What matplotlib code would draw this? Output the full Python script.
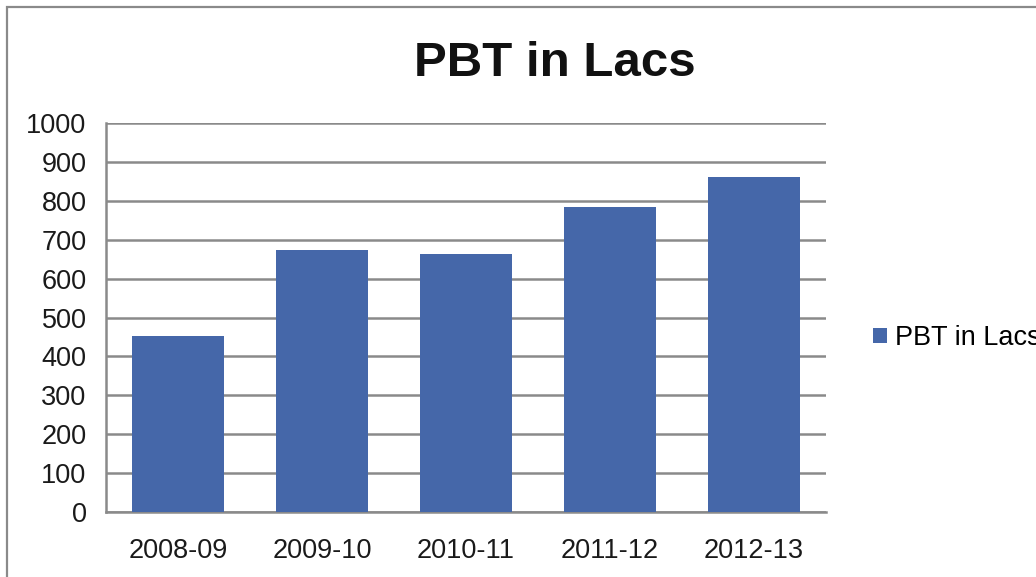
import matplotlib
matplotlib.use("Agg")
import matplotlib.pyplot as plt
from matplotlib.patches import Rectangle

years = ["2008-09", "2009-10", "2010-11", "2011-12", "2012-13"]
pbt_values = [452, 673, 663, 785, 862]
y_ticks = [0, 100, 200, 300, 400, 500, 600, 700, 800, 900, 1000]

W, H = 1036, 577
bar_color = "#4567A9"
grid_color = "#8A8A8A"

plt.rcParams["font.family"] = ["Liberation Sans", "DejaVu Sans"]

fig = plt.figure(figsize=(W / 100, H / 100), dpi=100)
fig.patch.set_facecolor("white")

# chart frame, cut off at right and bottom
fig.patches.append(Rectangle((7 / W, -0.1), 1.2, 1.1 - 7 / H,
                             transform=fig.transFigure, fill=False,
                             edgecolor=grid_color, linewidth=1.6))

ax = fig.add_axes([106 / W, 1 - 512 / H, 720 / W, 389 / H])
ax.bar(range(len(years)), pbt_values, width=0.644, color=bar_color,
       label="PBT in Lacs", zorder=3)

ax.set_xlim(-0.5, len(years) - 0.5)
ax.set_ylim(0, 1000)
ax.set_yticks(y_ticks)
ax.set_xticks(range(len(years)))
ax.set_xticklabels(years)
ax.tick_params(axis="both", length=0, labelsize=19.5, colors="#1a1a1a")
ax.tick_params(axis="y", pad=14)
ax.tick_params(axis="x", pad=19)

ax.grid(axis="y", color=grid_color, linewidth=1.8, zorder=0)
ax.set_axisbelow(True)
for side in ["top", "right"]:
    ax.spines[side].set_visible(False)
for side in ["left", "bottom"]:
    ax.spines[side].set_color(grid_color)
    ax.spines[side].set_linewidth(1.8)

fig.text(555 / W, 1 - 64 / H, "PBT in Lacs", ha="center", va="center",
         fontsize=35.5, fontweight="bold", color="#111111")

ax.legend(loc="center left", bbox_to_anchor=(873 / W, 1 - 338 / H),
          bbox_transform=fig.transFigure, frameon=False, fontsize=19.5,
          handlelength=0.52, handleheight=0.52, handletextpad=0.3,
          borderpad=0, borderaxespad=0)

fig.savefig("out.png", dpi=100)
